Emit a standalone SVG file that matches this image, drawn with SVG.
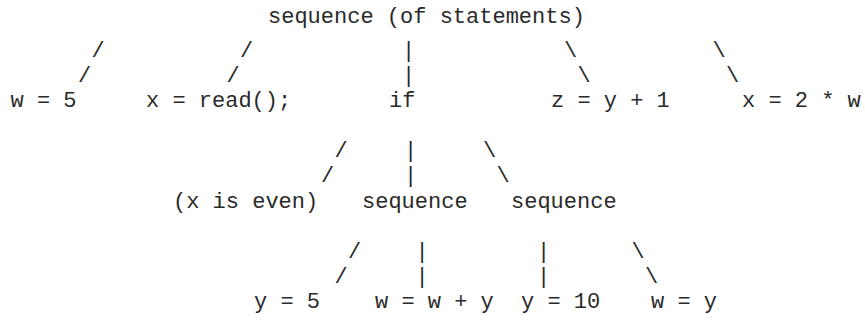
<svg xmlns="http://www.w3.org/2000/svg" width="865" height="321" viewBox="0 0 865 321">
<style>
  text { font-family: "Courier New", "Liberation Mono", monospace; font-size: 22px; fill: #2a2a2a; white-space: pre; }
</style>
<rect width="865" height="321" fill="#fff"/>
<g id="connectors">
  <text x="91.5" y="57">/</text>
  <text x="240" y="57">/</text>
  <text x="402" y="57">|</text>
  <text x="564" y="57">\</text>
  <text x="712.5" y="57">\</text>
  <text x="78" y="82">/</text>
  <text x="226.5" y="82">/</text>
  <text x="402" y="82">|</text>
  <text x="577.5" y="82">\</text>
  <text x="726" y="82">\</text>
  <text x="334.5" y="157">/</text>
  <text x="404" y="157">|</text>
  <text x="483" y="157">\</text>
  <text x="321" y="182">/</text>
  <text x="404" y="182">|</text>
  <text x="496.5" y="182">\</text>
  <text x="348" y="258">/</text>
  <text x="415.5" y="258">|</text>
  <text x="537" y="258">|</text>
  <text x="631.5" y="258">\</text>
  <text x="334.5" y="283">/</text>
  <text x="415.5" y="283">|</text>
  <text x="537" y="283">|</text>
  <text x="645" y="283">\</text>
</g>
<g id="root"><text x="268" y="23">sequence (of statements)</text></g>
<g id="w5"><text x="10.5" y="107">w = 5</text></g>
<g id="xread"><text x="146" y="107">x = read();</text></g>
<g id="if"><text x="389" y="107">if</text></g>
<g id="zy1"><text x="551" y="107">z = y + 1</text></g>
<g id="x2w"><text x="742" y="107">x = 2 * w</text></g>
<g id="cond"><text x="173" y="208">(x is even)</text></g>
<g id="seq1"><text x="362" y="208">sequence</text></g>
<g id="seq2"><text x="511" y="208">sequence</text></g>
<g id="y5"><text x="254" y="308">y = 5</text></g>
<g id="wwy"><text x="375" y="308">w = w + y</text></g>
<g id="y10"><text x="521" y="308">y = 10</text></g>
<g id="wy"><text x="651" y="308">w = y</text></g>
</svg>
